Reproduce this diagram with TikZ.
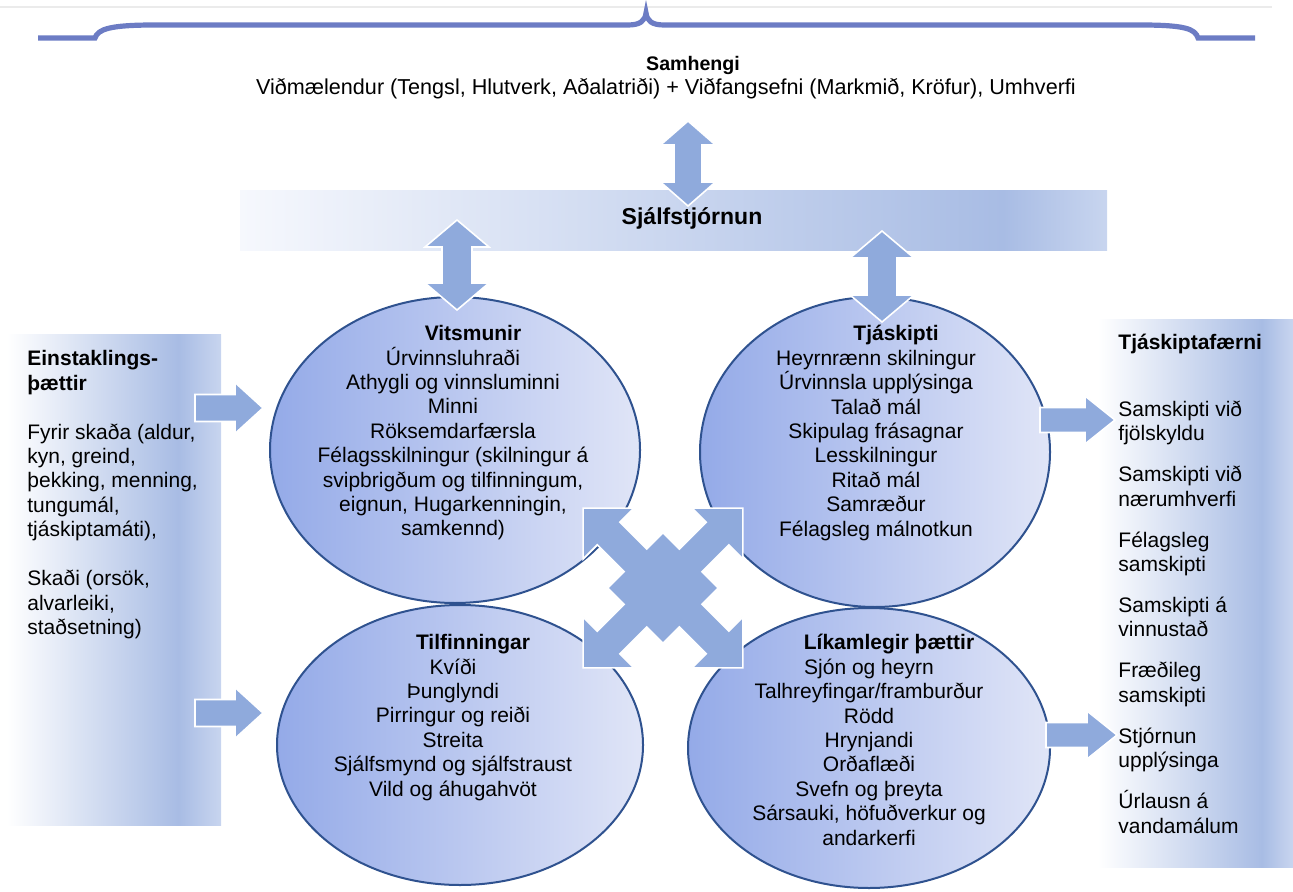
\documentclass[tikz,border=0pt]{standalone}
\usepackage{fontspec}
\setmainfont{Liberation Sans}
\usetikzlibrary{calc,positioning,shapes.geometric}

\definecolor{arrowblue}{RGB}{143,170,220}
\definecolor{rimblue}{RGB}{47,82,143}
\definecolor{ovaldark}{RGB}{148,170,232}
\definecolor{ovallight}{RGB}{224,229,247}
\definecolor{panelblue}{RGB}{168,188,228}
\definecolor{panellight}{RGB}{200,213,239}
\definecolor{bandwhite}{RGB}{246,248,253}
\definecolor{bracecol}{RGB}{108,124,196}

\pgfdeclarehorizontalshading{leftpanel}{100bp}{color(0bp)=(white); color(25bp)=(white); color(65bp)=(panelblue); color(75bp)=(panellight); color(100bp)=(panellight)}
\pgfdeclarehorizontalshading{rightpanel}{100bp}{color(0bp)=(white); color(25bp)=(white); color(67bp)=(panelblue); color(75bp)=(panellight); color(100bp)=(panellight)}
\pgfdeclarehorizontalshading{bandshade}{100bp}{color(0bp)=(bandwhite); color(25bp)=(bandwhite); color(69bp)=(panelblue); color(75bp)=(panellight); color(100bp)=(panellight)}

% Blockpfeile: Start, Ziel, halbe Schaftbreite, halbe Kopfbreite, Kopflaenge
\newcommand{\oneway}[5]{%
  \coordinate (hb) at ($(#2)!#5!(#1)$);
  \filldraw[blockarrow] ($(#1)!#3!90:(#2)$) -- ($(hb)!#3!90:(#2)$) -- ($(hb)!#4!90:(#2)$) -- (#2)
    -- ($(hb)!#4!-90:(#2)$) -- ($(hb)!#3!-90:(#2)$) -- ($(#1)!#3!-90:(#2)$) -- cycle;}
\newcommand{\twoway}[5]{%
  \coordinate (ha) at ($(#1)!#5!(#2)$);
  \coordinate (hb) at ($(#2)!#5!(#1)$);
  \filldraw[blockarrow] (#1) -- ($(ha)!#4!90:(#2)$) -- ($(ha)!#3!90:(#2)$) -- ($(hb)!#3!90:(#2)$)
    -- ($(hb)!#4!90:(#2)$) -- (#2) -- ($(hb)!#4!-90:(#2)$) -- ($(hb)!#3!-90:(#2)$)
    -- ($(ha)!#3!-90:(#2)$) -- ($(ha)!#4!-90:(#2)$) -- cycle;}

\begin{document}
\begin{tikzpicture}[x=0.5pt,y=-0.5pt,
	oval/.style={ellipse, draw=rimblue, line width=1pt, left color=ovaldark, right color=ovallight, inner sep=0pt},
	ovaltext/.style={align=center, inner sep=0pt, anchor=north, font=\fontsize{10.5}{12.2}\selectfont},
	paneltext/.style={align=left, inner sep=0pt, anchor=north west, font=\fontsize{10.5}{12.2}\selectfont},
	panel/.style={rectangle, inner sep=0pt},
	blockarrow/.style={fill=arrowblue, draw=white, line width=0.8pt, line join=miter}]
	
	\useasboundingbox (0,0) rectangle (1293,892);
	
	%Kopf
	\draw[black!8, line width=0.6pt] (0,7) -- (1272,7);
	\draw[bracecol, line width=2.6pt] (38,38) -- (95,38) .. controls (98,29) and (110,25) .. (155,25) -- (628,25)
		.. controls (640,25) and (645,21) .. (646,13) .. controls (647,21) and (652,25) .. (664,25) -- (1140,25)
		.. controls (1186,25) and (1195,29) .. (1198,38) -- (1255,38);
	\node[font=\bfseries\fontsize{9.8}{11}\selectfont] (ctx) at (693,65) {Samhengi};
	\node[font=\fontsize{10.8}{12}\selectfont] (ctxsub) at (666,89) {Viðmælendur (Tengsl, Hlutverk, Aðalatriði) + Viðfangsefni (Markmið, Kröfur), Umhverfi};
	
	%Flaechen
	\node[panel, shading=leftpanel, minimum width=107pt, minimum height=245pt] (indiv) at (114,580) {};
	\node[panel, shading=rightpanel, minimum width=97.5pt, minimum height=273.5pt] (skills) at (1195.5,593.5) {};
	\node[panel, shading=bandshade, minimum width=433.5pt, minimum height=30pt] (band) at (673.5,221) {};
	\node[font=\bfseries\fontsize{11.5}{13}\selectfont] (selfreg) at (692,218) {Sjálfstjórnun};
	
	%Ellipsen
	\node[oval, minimum width=185pt, minimum height=153pt] (cog) at (455,450) {};
	\node[oval, minimum width=175pt, minimum height=155pt] (com) at (875,452) {};
	\node[oval, minimum width=183pt, minimum height=140pt] (emo) at (460,745) {};
	\node[oval, minimum width=181pt, minimum height=140pt] (phys) at (869,748) {};
	
	%Pfeile
	\coordinate (a1) at (688,121); \coordinate (a2) at (688,206);
	\coordinate (b1) at (457,220); \coordinate (b2) at (457,310);
	\coordinate (c1) at (882,231); \coordinate (c2) at (882,322);
	\coordinate (d1) at (195,408); \coordinate (d2) at (263,408);
	\coordinate (e1) at (195,713); \coordinate (e2) at (263,713);
	\coordinate (f1) at (1040,420); \coordinate (f2) at (1115,420);
	\coordinate (g1) at (1046,735); \coordinate (g2) at (1117,735);
	\twoway{a1}{a2}{7pt}{13.75pt}{12pt}
	\twoway{b1}{b2}{7.5pt}{16pt}{13.5pt}
	\twoway{c1}{c2}{7.5pt}{16pt}{13.5pt}
	\oneway{d1}{d2}{6.75pt}{12.75pt}{14pt}
	\oneway{e1}{e2}{6.75pt}{12.75pt}{14pt}
	\oneway{f1}{f2}{6.25pt}{12pt}{15pt}
	\oneway{g1}{g2}{6.25pt}{12pt}{15pt}
	
	%Kreuz in der Mitte
	\begin{scope}[shift={(663,588)}, rotate=45]
		\filldraw[blockarrow] (113,0) -- (77,36) -- (77,16) -- (39,16) -- (39,39) -- (16,39) -- (16,77) -- (36,77)
			-- (0,113) -- (-36,77) -- (-16,77) -- (-16,39) -- (-39,39) -- (-39,16) -- (-77,16) -- (-77,36)
			-- (-113,0) -- (-77,-36) -- (-77,-16) -- (-39,-16) -- (-39,-39) -- (-16,-39) -- (-16,-77) -- (-36,-77)
			-- (0,-113) -- (36,-77) -- (16,-77) -- (16,-39) -- (39,-39) -- (39,-16) -- (77,-16) -- (77,-36) -- cycle;
	\end{scope}
	
	%Texte
	\node[ovaltext] (cogT) at (453,325) {\hspace*{20pt}\textbf{Vitsmunir}\\ Úrvinnsluhraði\\ Athygli og vinnsluminni\\ Minni\\ Röksemdarfærsla\\ Félagsskilningur (skilningur á\\ svipbrigðum og tilfinningum,\\ eignun, Hugarkenningin,\\ samkennd)};
	\node[ovaltext] (comT) at (876,325) {\hspace*{20pt}\textbf{Tjáskipti}\\ Heyrnrænn skilningur\\ Úrvinnsla upplýsinga\\ Talað mál\\ Skipulag frásagnar\\ Lesskilningur\\ Ritað mál\\ Samræður\\ Félagsleg málnotkun};
	\node[ovaltext] (emoT) at (453,634) {\hspace*{20pt}\textbf{Tilfinningar}\\ Kvíði\\ Þunglyndi\\ Pirringur og reiði\\ Streita\\ Sjálfsmynd og sjálfstraust\\ Vild og áhugahvöt};
	\node[ovaltext] (physT) at (869,634) {\hspace*{20pt}\textbf{Líkamlegir þættir}\\ Sjón og heyrn\\ Talhreyfingar/framburður\\ Rödd\\ Hrynjandi\\ Orðaflæði\\ Svefn og þreyta\\ Sársauki, höfuðverkur og\\ andarkerfi};
	\node[paneltext] (indivT) at (27,350) {\textbf{Einstaklings-}\\ \textbf{þættir}\\[12.3pt] Fyrir skaða (aldur,\\ kyn, greind,\\ þekking, menning,\\ tungumál,\\ tjáskiptamáti),\\[12.3pt] Skaði (orsök,\\ alvarleiki,\\ staðsetning)};
	\node[paneltext] (skillsT) at (1118,334) {\textbf{Tjáskiptafærni}\\[21pt] Samskipti við\\ fjölskyldu\\[8.3pt] Samskipti við\\ nærumhverfi\\[8.3pt] Félagsleg\\ samskipti\\[8.3pt] Samskipti á\\ vinnustað\\[8.3pt] Fræðileg\\ samskipti\\[8.3pt] Stjórnun\\ upplýsinga\\[8.3pt] Úrlausn á\\ vandamálum};
	
\end{tikzpicture}
\end{document}
